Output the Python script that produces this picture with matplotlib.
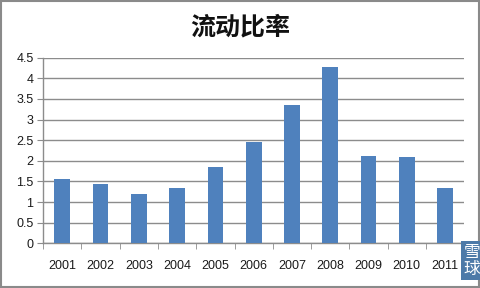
"""流动比率 bar chart"""
import matplotlib.pyplot as plt
import numpy as np

years = ['2001', '2002', '2003', '2004', '2005', '2006',
         '2007', '2008', '2009', '2010', '2011']
ratio = [1.57, 1.43, 1.19, 1.33, 1.84, 2.46, 3.34, 4.28, 2.11, 2.08, 1.33]
y_ticks = [0, 0.5, 1, 1.5, 2, 2.5, 3, 3.5, 4, 4.5]
y_labels = ['0', '0.5', '1', '1.5', '2', '2.5', '3', '3.5', '4', '4.5']

plt.rcParams['font.family'] = ['Liberation Sans', 'Noto Sans CJK SC', 'DejaVu Sans']
grid_col = '#8c8c8c'
bar_col = '#4f81bd'

fig = plt.figure(figsize=(4.8, 2.88), dpi=100)
ax = fig.add_axes([0.090, 0.155, 0.877, 0.645])

x = np.arange(len(years))
ax.bar(x, ratio, width=0.41, color=bar_col, zorder=3)

ax.set_xlim(-0.5, len(years) - 0.5)
ax.set_ylim(0, 4.5)
ax.set_yticks(y_ticks)
ax.set_yticklabels(y_labels, fontsize=9, color='#1a1a1a')
ax.set_xticks(x)
ax.set_xticklabels(years, fontsize=9, color='#1a1a1a')
ax.set_xticks(np.arange(len(years) + 1) - 0.5, minor=True)
ax.tick_params(axis='x', which='major', length=0, pad=12)
ax.tick_params(axis='x', which='minor', length=4, color=grid_col)
ax.tick_params(axis='y', length=4, color=grid_col, pad=3)
ax.yaxis.grid(True, color=grid_col, linewidth=1, zorder=0)
ax.set_axisbelow(True)

for s in ['top', 'right']:
    ax.spines[s].set_visible(False)
for s in ['left', 'bottom']:
    ax.spines[s].set_color(grid_col)
    ax.spines[s].set_linewidth(1)

fig.text(0.5, 0.905, '流动比率', ha='center', va='center', fontsize=18,
         fontweight='bold', family=['Noto Sans CJK SC'], color='#111111')

# figure border
fig.patches.append(plt.Rectangle((0.002, 0.003), 0.995, 0.994, transform=fig.transFigure,
                                 fill=False, edgecolor='#8a8a8a', linewidth=1.5))

# watermark
fig.text(0.983, 0.095, '雪\n球', ha='center', va='center', fontsize=12,
         family=['Noto Sans CJK SC'], color='white', linespacing=1.0,
         bbox=dict(boxstyle='square,pad=0.15', facecolor='#4d7aa8', edgecolor='none'))

fig.savefig('out.png', dpi=100)
